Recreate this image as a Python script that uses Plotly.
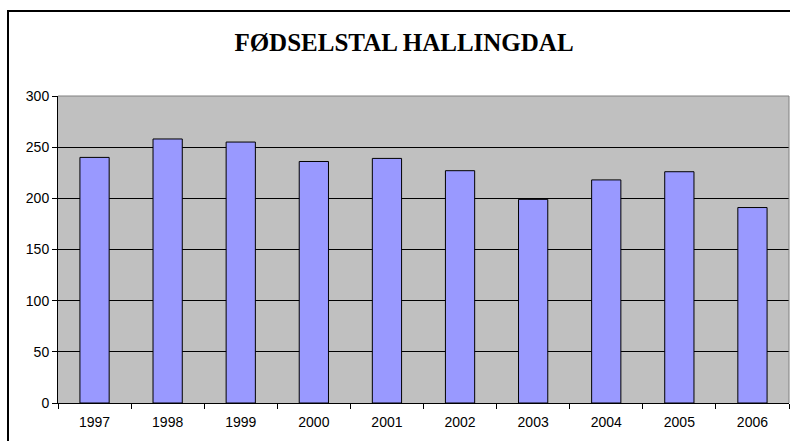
import plotly.graph_objects as go

years = ["1997", "1998", "1999", "2000", "2001", "2002", "2003", "2004", "2005", "2006"]
births = [240, 258, 255, 236, 239, 227, 199, 218, 226, 191]
y_ticks = [0, 50, 100, 150, 200, 250, 300]
title_text = "FØDSELSTAL HALLINGDAL"

SANS = "Arial, Liberation Sans, sans-serif"
SERIF = "Times New Roman, Liberation Serif, DejaVu Serif, serif"

fig = go.Figure()
fig.add_trace(go.Bar(
    x=years, y=births,
    marker=dict(color="#9999FF", line=dict(color="black", width=1)),
    hoverinfo="x+y",
))

fig.update_layout(
    width=790, height=441,
    margin=dict(l=58, r=1, t=96, b=38, autoexpand=False),
    paper_bgcolor="white",
    plot_bgcolor="#C0C0C0",
    bargap=0.6,
    showlegend=False,
    title=dict(
        text="<b>" + title_text + "</b>",
        x=404 / 790, xref="container", xanchor="center",
        y=1 - 42 / 441, yref="container", yanchor="middle",
        font=dict(family=SERIF, size=25, color="black"),
    ),
    font=dict(family=SANS, size=13, color="black"),
)

fig.update_xaxes(
    type="category",
    tickson="boundaries",
    ticks="outside", ticklen=5, tickcolor="black", tickwidth=1,
    ticklabelstandoff=6,
    showline=True, linecolor="black", linewidth=1,
    showgrid=False,
    tickfont=dict(family=SANS, size=14, color="black"),
)
fig.update_yaxes(
    range=[0, 300],
    tickvals=y_ticks,
    ticks="outside", ticklen=5, tickcolor="black", tickwidth=1,
    showline=True, linecolor="black", linewidth=1,
    showgrid=True, gridcolor="black", gridwidth=1,
    zeroline=False,
    tickfont=dict(family=SANS, size=14, color="black"),
)

# plot area border (top and right, grey)
fig.add_shape(type="line", xref="paper", yref="paper", x0=0, x1=1, y0=1, y1=1,
              line=dict(color="#808080", width=1), layer="above")
fig.add_shape(type="line", xref="paper", yref="paper", x0=1, x1=1, y0=0, y1=1,
              line=dict(color="#808080", width=1), layer="above")

# chart area border (top-left corner visible)
x_left = (8 - 58) / 731
y_top = (403 - 11) / 307
fig.add_shape(type="rect", xref="paper", yref="paper",
              x0=x_left, x1=1.2, y0=-0.3, y1=y_top,
              line=dict(color="black", width=2), fillcolor="rgba(0,0,0,0)", layer="above")

fig.write_html("out.html")
